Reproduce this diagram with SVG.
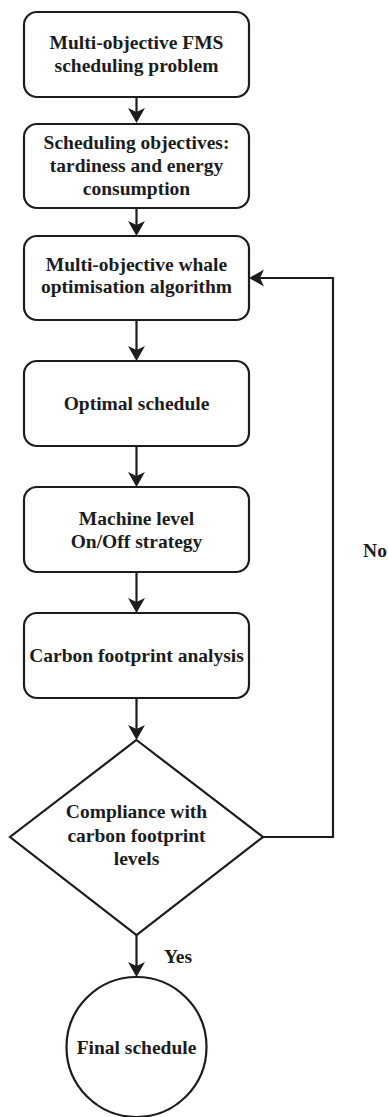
<svg xmlns="http://www.w3.org/2000/svg" width="388" height="1117" viewBox="0 0 388 1117">
<style>
.n{fill:#fff;stroke:#1c1c1c;stroke-width:2.2}
.c{fill:none;stroke:#1c1c1c;stroke-width:2.2}
text{font-family:"Liberation Serif","Times New Roman",serif;font-weight:bold;font-size:19.5px;fill:#1c1c1c;text-anchor:middle}
</style>
<defs>
<marker id="ah" markerUnits="userSpaceOnUse" viewBox="-6 -9 17 18" markerWidth="17" markerHeight="18" refX="0" refY="0" orient="auto">
<path d="M-5,-8.5 L10,0 L-5,8.5 L-1,0 Z" fill="#1c1c1c"/>
</marker>
</defs>
<rect width="388" height="1117" fill="#fff"/>
<g id="connectors">
<path class="c" d="M136.5,97 V113" marker-end="url(#ah)"/>
<path class="c" d="M136.5,208 V226" marker-end="url(#ah)"/>
<path class="c" d="M136.5,320 V351" marker-end="url(#ah)"/>
<path class="c" d="M136.5,446 V477" marker-end="url(#ah)"/>
<path class="c" d="M136.5,572 V603" marker-end="url(#ah)"/>
<path class="c" d="M136.5,698 V730" marker-end="url(#ah)"/>
<path class="c" d="M136.5,935 V967" marker-end="url(#ah)"/>
<path class="c" d="M263,837 H333 V278 H259" marker-end="url(#ah)"/>
<text x="178" y="963">Yes</text>
<text x="375" y="557">No</text>
</g>
<g id="n1">
<rect class="n" x="24" y="12" width="225" height="85" rx="13"/>
<text x="136.5" y="49">Multi-objective FMS</text>
<text x="136.5" y="72">scheduling problem</text>
</g>
<g id="n2">
<rect class="n" x="24" y="124" width="225" height="84" rx="13"/>
<text x="136.5" y="149">Scheduling objectives:</text>
<text x="136.5" y="172">tardiness and energy</text>
<text x="136.5" y="195">consumption</text>
</g>
<g id="n3">
<rect class="n" x="24" y="236" width="225" height="84" rx="13"/>
<text x="136.5" y="271">Multi-objective whale</text>
<text x="136.5" y="293">optimisation algorithm</text>
</g>
<g id="n4">
<rect class="n" x="24" y="361" width="225" height="85" rx="13"/>
<text x="136.5" y="410">Optimal schedule</text>
</g>
<g id="n5">
<rect class="n" x="24" y="487" width="225" height="85" rx="13"/>
<text x="136.5" y="525">Machine level</text>
<text x="136.5" y="548">On/Off strategy</text>
</g>
<g id="n6">
<rect class="n" x="24" y="613" width="225" height="85" rx="13"/>
<text x="136.5" y="662">Carbon footprint analysis</text>
</g>
<g id="n7">
<polygon class="n" points="136.5,740 263,837 136.5,935 10,837"/>
<text x="136.5" y="818">Compliance with</text>
<text x="136.5" y="842">carbon footprint</text>
<text x="136.5" y="865">levels</text>
</g>
<g id="n8">
<circle class="n" cx="136.5" cy="1047" r="70"/>
<text x="136.5" y="1054">Final schedule</text>
</g>
</svg>
